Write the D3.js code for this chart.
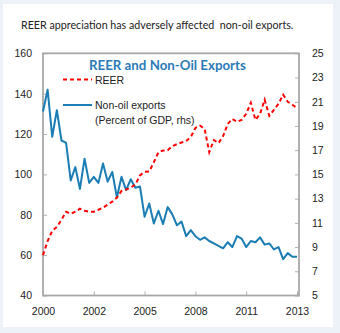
<!DOCTYPE html>
<html>
<head>
<meta charset="utf-8">
<script src="https://cdn.jsdelivr.net/npm/d3@7"></script>
<style>
  body { margin: 0; background: #edf1f8; }
  text { font-family: "Liberation Sans", Arial, sans-serif; }
</style>
</head>
<body>
<div id="chart"></div>
<script>
// Quarterly categories, 2000Q1 - 2013Q4
var quarters = [
  "2000Q1","2000Q2","2000Q3","2000Q4","2001Q1","2001Q2","2001Q3","2001Q4",
  "2002Q1","2002Q2","2002Q3","2002Q4","2003Q1","2003Q2","2003Q3","2003Q4",
  "2004Q1","2004Q2","2004Q3","2004Q4","2005Q1","2005Q2","2005Q3","2005Q4",
  "2006Q1","2006Q2","2006Q3","2006Q4","2007Q1","2007Q2","2007Q3","2007Q4",
  "2008Q1","2008Q2","2008Q3","2008Q4","2009Q1","2009Q2","2009Q3","2009Q4",
  "2010Q1","2010Q2","2010Q3","2010Q4","2011Q1","2011Q2","2011Q3","2011Q4",
  "2012Q1","2012Q2","2012Q3","2012Q4","2013Q1","2013Q2","2013Q3","2013Q4"
];

// REER index (lhs)
var reer = [
  60, 67, 72, 74, 77.5, 81.5, 80.5, 81.5, 83, 82, 81.5, 81.5, 82.5, 83.5,
  85, 86.5, 88.5, 91.8, 92.5, 93.5, 95, 99.5, 101.3, 101.5, 106, 111, 111.8,
  112, 114, 115, 115.8, 116.5, 118.5, 123, 124.2, 122.5, 111, 117, 115.5, 119,
  125, 127.5, 126, 127, 130, 135.5, 127, 130, 137, 129, 132, 135, 139.5, 136,
  134.5, 133
];

// Non-oil exports, percent of GDP (rhs)
var nonOil = [
  20.2, 22.0, 18.1, 20.3, 17.8, 17.6, 14.5, 15.6, 13.8, 16.3, 14.3, 14.8,
  14.3, 15.9, 14.4, 15.2, 13.1, 14.8, 13.7, 14.6, 13.9, 14.0, 11.5, 12.6,
  10.95, 12.0, 10.9, 12.3, 11.7, 10.8, 11.1, 9.9, 10.4, 9.9, 9.6, 9.8,
  9.5, 9.3, 9.1, 8.9, 9.4, 9.0, 9.9, 9.7, 9.0, 9.5, 9.4, 9.8,
  9.2, 9.3, 8.8, 9.0, 8.0, 8.5, 8.2, 8.2
];

// Axis ticks
var tickQuarters = ["2000Q1","2002Q4","2005Q3","2008Q2","2011Q1","2013Q4"];
var tickLabels = ["2000","2002","2005","2008","2011","2013"];
var leftTicks = [40, 60, 80, 100, 120, 140, 160];
var rightTicks = [5, 7, 9, 11, 13, 15, 17, 19, 21, 23, 25];

var svg = d3.select("#chart").append("svg")
    .attr("width", 340)
    .attr("height", 333);

// White panel
svg.append("rect")
    .attr("x", 3).attr("y", 4)
    .attr("width", 330).attr("height", 323)
    .attr("fill", "#ffffff");

// Plot area
var plot = {left: 43, right: 299, top: 53.3, bottom: 295.5};

var xScale = d3.scalePoint()
    .domain(quarters)
    .range([plot.left, plot.right - 2]);

var yLeft = d3.scaleLinear()
    .domain([40, 160])
    .range([plot.bottom, plot.top]);

var yRight = d3.scaleLinear()
    .domain([5, 25])
    .range([plot.bottom, plot.top]);

// Heading above chart
svg.append("text")
    .attr("x", 21).attr("y", 29)
    .attr("font-size", 10.7)
    .attr("fill", "#222")
    .style("font-family", "Lato, sans-serif")
    .style("white-space", "pre")
    .text("REER appreciation has adversely affected  non-oil exports.");

// Axes
var leftAxis = d3.axisLeft(yLeft).tickValues(leftTicks).tickSize(-4).tickPadding(11);
var rightAxis = d3.axisRight(yRight).tickValues(rightTicks).tickSize(-4).tickPadding(13);
var bottomAxis = d3.axisBottom(xScale).tickValues(tickQuarters).tickSize(-4).tickPadding(12)
    .tickFormat(function(d) { return tickLabels[tickQuarters.indexOf(d)]; });

var axes = [
  svg.append("g").attr("transform", "translate(" + plot.left + ",0)").call(leftAxis),
  svg.append("g").attr("transform", "translate(" + plot.right + ",0)").call(rightAxis),
  svg.append("g").attr("transform", "translate(0," + plot.bottom + ")").call(bottomAxis)
];
axes.forEach(function(g) {
  g.select(".domain").remove();
  g.selectAll(".tick line").attr("stroke", "#b0b0b0");
  g.selectAll("text").attr("font-size", 10.5).attr("fill", "#222")
      .style("font-family", "'Liberation Sans', Arial, sans-serif");
});

// Plot border
svg.append("rect")
    .attr("x", plot.left).attr("y", plot.top)
    .attr("width", plot.right - plot.left)
    .attr("height", plot.bottom - plot.top)
    .attr("fill", "none")
    .attr("stroke", "#a8a8a8")
    .attr("stroke-width", 1.8);

// Lines
var reerLine = d3.line()
    .x(function(d, i) { return xScale(quarters[i]); })
    .y(function(d) { return yLeft(d); });

var nonOilLine = d3.line()
    .x(function(d, i) { return xScale(quarters[i]); })
    .y(function(d) { return yRight(d); });

svg.append("path")
    .datum(nonOil)
    .attr("d", nonOilLine)
    .attr("fill", "none")
    .attr("stroke", "#1a7db4")
    .attr("stroke-width", 2)
    .attr("stroke-linejoin", "round");

svg.append("path")
    .datum(reer)
    .attr("d", reerLine)
    .attr("fill", "none")
    .attr("stroke", "#ff0000")
    .attr("stroke-width", 2)
    .attr("stroke-dasharray", "4,3");

// Title inside plot
svg.append("text")
    .attr("x", 89).attr("y", 70)
    .attr("font-size", 13.3)
    .attr("font-weight", "bold")
    .attr("fill", "#2a7bb8")
    .style("font-family", "Lato, sans-serif")
    .text("REER and Non-Oil Exports");

// Legend
var legend = svg.append("g").style("font-family", "Lato, sans-serif").attr("font-size", 10.5).attr("fill", "#222");

legend.append("line")
    .attr("x1", 63).attr("x2", 92).attr("y1", 79.5).attr("y2", 79.5)
    .attr("stroke", "#ff0000").attr("stroke-width", 2).attr("stroke-dasharray", "4,3");
legend.append("text").attr("x", 95).attr("y", 83.5).text("REER");

legend.append("line")
    .attr("x1", 63).attr("x2", 92).attr("y1", 105).attr("y2", 105)
    .attr("stroke", "#1a7db4").attr("stroke-width", 2);
legend.append("text").attr("x", 95).attr("y", 109).text("Non-oil exports");
legend.append("text").attr("x", 95).attr("y", 124).text("(Percent of GDP, rhs)");
</script>
</body>
</html>
